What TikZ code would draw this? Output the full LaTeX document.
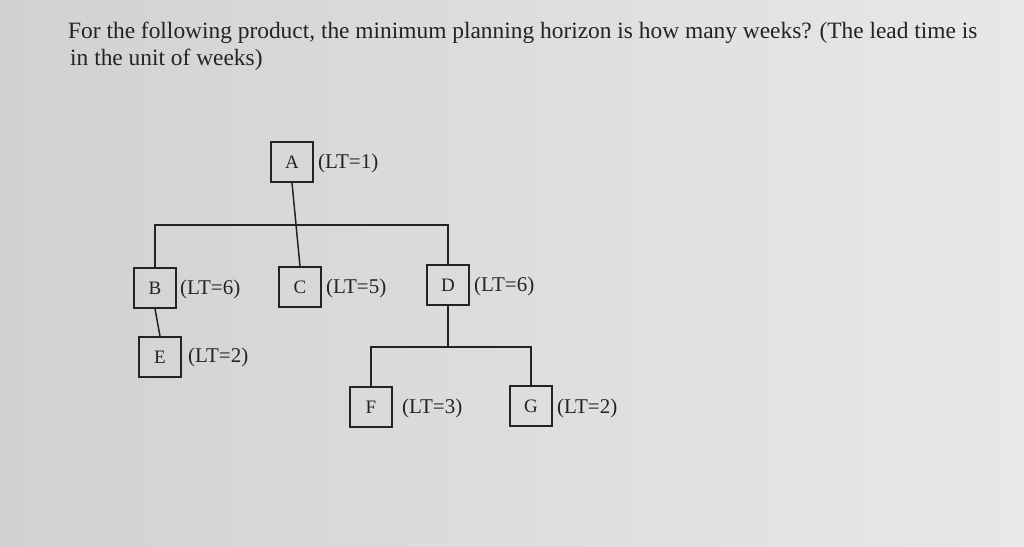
\documentclass[tikz,border=0pt]{standalone}
\usepackage{fontspec}
\setmainfont{Liberation Serif}
\definecolor{bgl}{RGB}{208,210,208}
\definecolor{bgr}{RGB}{232,232,232}
\definecolor{ink}{RGB}{35,35,35}
\begin{document}
\begin{tikzpicture}[x=1pt,y=-1pt,
  partbox/.style={draw=ink,line width=1.5pt,minimum width=42pt,minimum height=40pt,inner sep=0pt,text=ink,font=\fontsize{19}{21}\selectfont},
  ltlabel/.style={anchor=west,inner sep=0pt,text=ink,font=\fontsize{21}{24}\selectfont},
  link/.style={draw=ink,line width=1.5pt},
  titletext/.style={anchor=base west,inner sep=0pt,text=ink,font=\fontsize{23.4}{27}\selectfont}]
\useasboundingbox (0,0) rectangle (1024,546);
\shade[left color=bgl,right color=bgr] (0,0) rectangle (1024,546);
% title
\node[titletext] (t1) at (68,38) {For the following product, the minimum planning horizon is how many weeks? (The lead time is};
\node[titletext] (t2) at (70,65) {in the unit of weeks)};
% boxes
\node[partbox] (A) at (292,162) {A};
\node[partbox] (B) at (155,288) {B};
\node[partbox] (C) at (300,287) {C};
\node[partbox] (D) at (448,285) {D};
\node[partbox] (E) at (160,357) {E};
\node[partbox] (F) at (371,407) {F};
\node[partbox] (G) at (531,406) {G};
% labels
\node[ltlabel] (la) at (318,163) {(LT=1)};
\node[ltlabel] (lb) at (180,289) {(LT=6)};
\node[ltlabel] (lc) at (326,288) {(LT=5)};
\node[ltlabel] (ld) at (474,286) {(LT=6)};
\node[ltlabel] (le) at (188,357) {(LT=2)};
\node[ltlabel] (lf) at (402,408) {(LT=3)};
\node[ltlabel] (lg) at (557,408) {(LT=2)};
% junctions
\coordinate (j1) at (296,225);
\coordinate (j2) at (450,347);
% connectors
\draw[link] (A.south) -- (C.north);
\draw[link] (B.north) -- (B.north |- j1) -- (D.north |- j1) -- (D.north);
\draw[link] (B.south) -- (E.north);
\draw[link] (D.south) -- (D.south |- j2);
\draw[link] (F.north) -- (F.north |- j2) -- (G.north |- j2) -- (G.north);
\end{tikzpicture}
\end{document}
